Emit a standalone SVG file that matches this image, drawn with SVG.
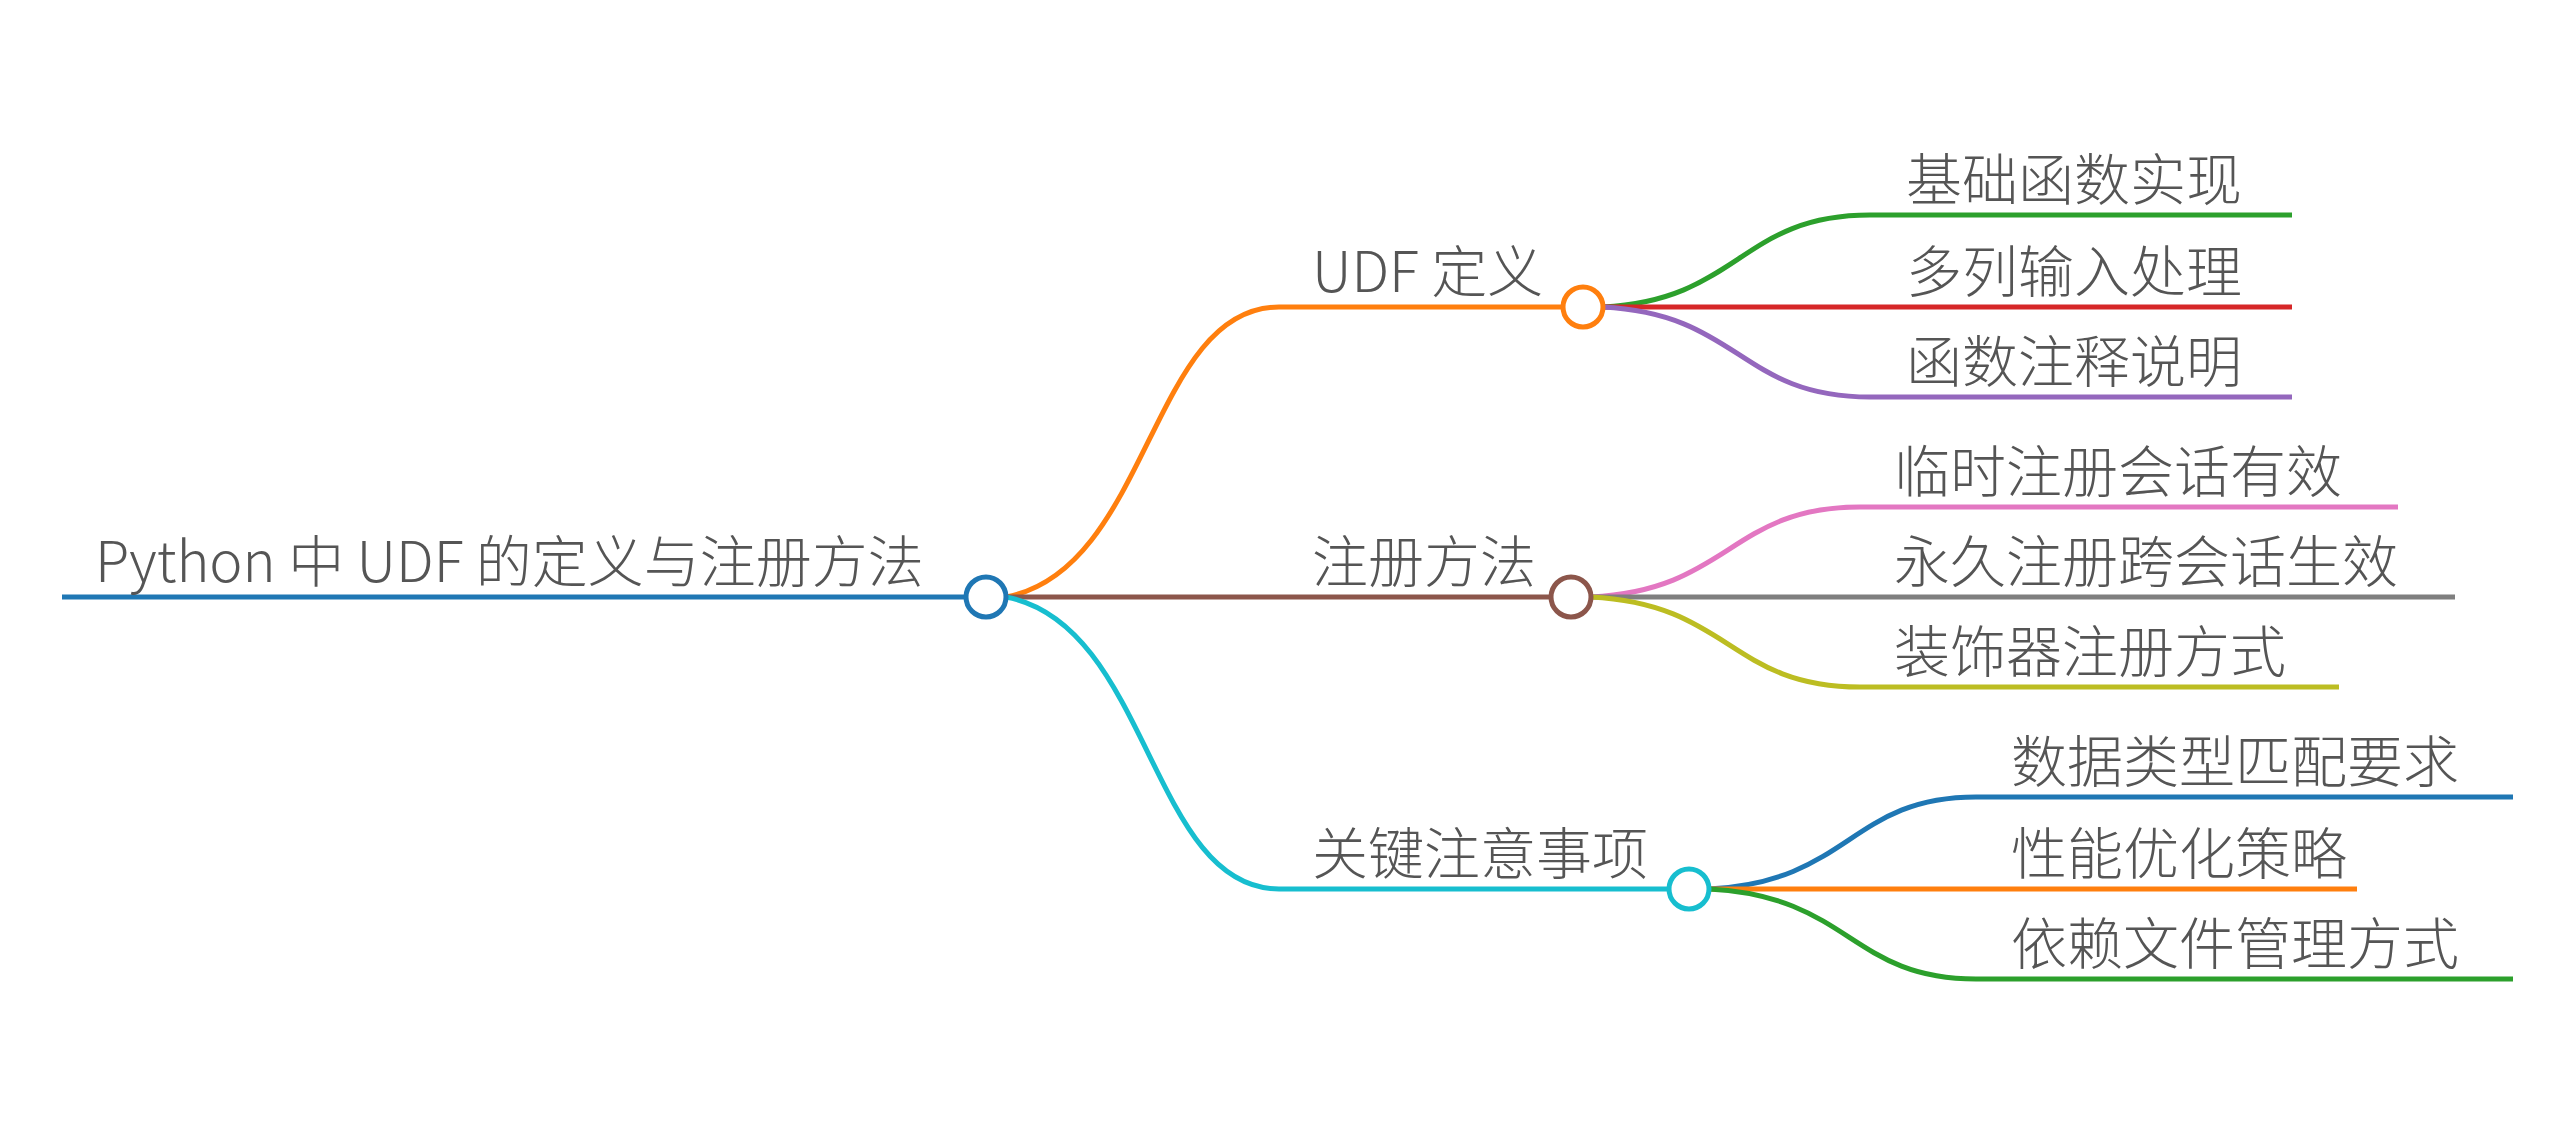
<svg xmlns="http://www.w3.org/2000/svg" width="2572" height="1124" viewBox="0 0 2572 1124">
<style>
.e{fill:none;stroke-width:5}
.n{fill:#fff;stroke-width:5}
text{font-family:"Noto Sans CJK SC","Noto Sans",sans-serif;font-size:56px;font-weight:300;fill:#555}
</style>
<rect width="2572" height="1124" fill="#fff"/>
<g id="connectors">
<path class="e" stroke="#1f77b4" d="M62 597H966"/>
<path class="e" stroke="#ff7f0e" d="M1006 597C1150 570 1150 307 1279 307H1563"/>
<path class="e" stroke="#8c564b" d="M1006 597H1551"/>
<path class="e" stroke="#17becf" d="M1006 597C1150 624 1150 889 1279 889H1669"/>
<path class="e" stroke="#2ca02c" d="M1603 307C1740 300 1740 215 1870 215H2292"/>
<path class="e" stroke="#d62728" d="M1603 307H2292"/>
<path class="e" stroke="#9467bd" d="M1603 307C1740 314 1740 397 1870 397H2292"/>
<path class="e" stroke="#e377c2" d="M1591 597C1730 590 1730 507 1860 507H2398"/>
<path class="e" stroke="#7f7f7f" d="M1591 597H2455"/>
<path class="e" stroke="#bcbd22" d="M1591 597C1730 604 1730 687 1860 687H2339"/>
<path class="e" stroke="#1f77b4" d="M1709 889C1850 882 1850 797 1976 797H2513"/>
<path class="e" stroke="#ff7f0e" d="M1709 889H2357"/>
<path class="e" stroke="#2ca02c" d="M1709 889C1850 896 1850 979 1976 979H2513"/>
</g>
<g id="root"><circle class="n" stroke="#1f77b4" cx="986" cy="597" r="20"/><text x="95" y="582">Python 中 UDF 的定义与注册方法</text></g>
<g id="b1"><circle class="n" stroke="#ff7f0e" cx="1583" cy="307" r="20"/><text x="1312" y="292">UDF 定义</text></g>
<g id="b2"><circle class="n" stroke="#8c564b" cx="1571" cy="597" r="20"/><text x="1312" y="582">注册方法</text></g>
<g id="b3"><circle class="n" stroke="#17becf" cx="1689" cy="889" r="20"/><text x="1312" y="874">关键注意事项</text></g>
<g id="l1"><text x="1906" y="200">基础函数实现</text></g>
<g id="l2"><text x="1906" y="292">多列输入处理</text></g>
<g id="l3"><text x="1906" y="382">函数注释说明</text></g>
<g id="l4"><text x="1894" y="492">临时注册会话有效</text></g>
<g id="l5"><text x="1894" y="582">永久注册跨会话生效</text></g>
<g id="l6"><text x="1894" y="672">装饰器注册方式</text></g>
<g id="l7"><text x="2011" y="782">数据类型匹配要求</text></g>
<g id="l8"><text x="2011" y="874">性能优化策略</text></g>
<g id="l9"><text x="2011" y="964">依赖文件管理方式</text></g>
</svg>
